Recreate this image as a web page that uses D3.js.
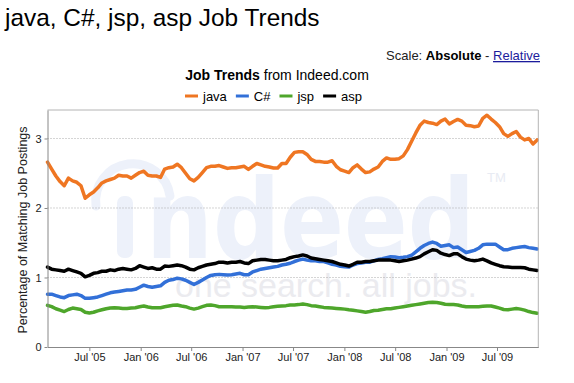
<!DOCTYPE html>
<html><head><meta charset="utf-8">
<script src="https://cdn.jsdelivr.net/npm/d3@7"></script>
<style>
body{margin:0;background:#fff;}
svg{display:block;font-family:Arial,"Liberation Sans",sans-serif;}
</style>
</head><body>
<svg id="chart" width="574" height="383"></svg>
<script>
// ---------- data ----------
const seriesNames = ["java", "C#", "jsp", "asp"];
const startDate = new Date(2005, 1, 1);   // first observation, Feb 2005
const stepDays = 15;                      // observation spacing
const java = [
2.66,2.56,2.46,2.38,2.32,2.43,2.39,2.37,2.32,2.14,
2.19,2.23,2.29,2.36,2.39,2.41,2.43,2.47,2.46,2.46,
2.43,2.47,2.51,2.53,2.47,2.46,2.46,2.44,2.56,2.58,
2.59,2.63,2.58,2.50,2.42,2.39,2.44,2.51,2.58,2.60,
2.60,2.61,2.59,2.57,2.58,2.58,2.59,2.60,2.555,2.60,
2.64,2.62,2.60,2.59,2.575,2.575,2.64,2.64,2.73,2.80,
2.81,2.81,2.77,2.70,2.67,2.67,2.66,2.66,2.68,2.60,
2.55,2.53,2.51,2.58,2.62,2.56,2.51,2.52,2.56,2.59,
2.67,2.72,2.70,2.70,2.71,2.75,2.84,2.96,3.08,3.19,
3.25,3.23,3.22,3.20,3.25,3.28,3.21,3.245,3.275,3.25,
3.19,3.185,3.17,3.18,3.29,3.335,3.28,3.23,3.17,3.07,
3.03,3.07,3.10,3.02,2.98,3.00,2.92,2.98];
const csharp = [
0.76,0.76,0.74,0.72,0.71,0.74,0.75,0.76,0.74,0.70,
0.70,0.71,0.72,0.74,0.76,0.78,0.79,0.80,0.81,0.82,
0.82,0.83,0.86,0.89,0.87,0.86,0.87,0.88,0.93,0.96,
0.97,0.99,0.98,0.96,0.93,0.90,0.93,0.965,1.00,1.03,
1.04,1.045,1.04,1.035,1.04,1.05,1.06,1.04,1.04,1.08,
1.10,1.12,1.13,1.14,1.15,1.16,1.18,1.19,1.205,1.23,
1.25,1.265,1.25,1.24,1.24,1.23,1.23,1.21,1.19,1.18,
1.16,1.155,1.15,1.18,1.20,1.21,1.22,1.22,1.24,1.26,
1.27,1.285,1.30,1.295,1.285,1.29,1.30,1.32,1.37,1.42,
1.46,1.49,1.51,1.49,1.45,1.46,1.47,1.43,1.44,1.40,
1.36,1.375,1.39,1.42,1.47,1.48,1.48,1.48,1.44,1.40,
1.40,1.42,1.43,1.44,1.445,1.43,1.42,1.41];
const jsp = [
0.60,0.58,0.55,0.53,0.51,0.54,0.56,0.55,0.54,0.50,
0.49,0.50,0.52,0.535,0.55,0.56,0.565,0.56,0.555,0.555,
0.56,0.565,0.58,0.59,0.575,0.565,0.565,0.565,0.58,0.59,
0.60,0.605,0.59,0.58,0.56,0.545,0.56,0.58,0.60,0.605,
0.595,0.58,0.58,0.58,0.58,0.575,0.575,0.57,0.575,0.58,
0.575,0.57,0.565,0.57,0.58,0.585,0.59,0.595,0.605,0.605,
0.61,0.62,0.61,0.595,0.59,0.58,0.57,0.565,0.56,0.555,
0.55,0.545,0.535,0.53,0.52,0.51,0.50,0.51,0.525,0.53,
0.54,0.55,0.55,0.56,0.57,0.58,0.59,0.60,0.61,0.62,
0.63,0.64,0.645,0.64,0.63,0.615,0.61,0.61,0.605,0.59,
0.58,0.58,0.58,0.58,0.585,0.59,0.59,0.575,0.56,0.54,
0.535,0.545,0.555,0.545,0.53,0.51,0.495,0.485];
const asp = [
1.15,1.12,1.11,1.10,1.09,1.12,1.10,1.08,1.06,1.01,
1.03,1.06,1.07,1.09,1.09,1.11,1.10,1.12,1.13,1.12,
1.11,1.13,1.17,1.15,1.13,1.14,1.12,1.12,1.165,1.16,
1.17,1.18,1.17,1.15,1.12,1.11,1.14,1.16,1.18,1.19,
1.20,1.22,1.22,1.21,1.22,1.22,1.23,1.21,1.20,1.24,
1.25,1.26,1.26,1.25,1.24,1.24,1.25,1.26,1.285,1.30,
1.31,1.325,1.31,1.28,1.27,1.26,1.25,1.24,1.23,1.21,
1.19,1.18,1.165,1.19,1.22,1.22,1.23,1.23,1.24,1.25,
1.25,1.25,1.25,1.24,1.23,1.24,1.25,1.265,1.28,1.30,
1.34,1.37,1.40,1.39,1.35,1.33,1.315,1.34,1.34,1.30,
1.265,1.25,1.24,1.25,1.265,1.24,1.21,1.19,1.17,1.155,
1.15,1.145,1.145,1.145,1.14,1.12,1.11,1.10];
const xTickDates = [
  new Date(2005,6,1), new Date(2006,0,1), new Date(2006,6,1), new Date(2007,0,1),
  new Date(2007,6,1), new Date(2008,0,1), new Date(2008,6,1), new Date(2009,0,1),
  new Date(2009,6,1)];
const yTickValues = [0, 1, 2, 3];

// ---------- styles ----------
const colors = ["#ef7622", "#3270d8", "#4ea62b", "#000000"];
const seriesValues = [java, csharp, jsp, asp];
const dates = java.map((_, i) => d3.timeDay.offset(startDate, stepDays * i));

const svg = d3.select("#chart");
const L = 47.5, R = 538.3, T = 110, B = 347;

const x = d3.scaleTime()
  .domain([startDate, new Date(2009, 10, 26)])
  .range([L, R]);
const y = d3.scaleLinear().domain([0, 3.41]).range([B, T]);

// ---------- header texts ----------
svg.append("text").attr("x", 5).attr("y", 26)
  .attr("font-size", 24.4).attr("fill", "#000")
  .text("java, C#, jsp, asp Job Trends");

const scaleT = svg.append("text").attr("x", 540).attr("y", 60)
  .attr("text-anchor", "end").attr("font-size", 13).attr("fill", "#222");
scaleT.append("tspan").text("Scale: ");
scaleT.append("tspan").attr("font-weight", "bold").attr("fill", "#000").text("Absolute");
scaleT.append("tspan").text(" - ");
scaleT.append("tspan").attr("fill", "#1c1c9c").attr("text-decoration", "underline").text("Relative");

const sub = svg.append("text").attr("x", 277).attr("y", 80)
  .attr("text-anchor", "middle").attr("font-size", 14).attr("fill", "#000");
sub.append("tspan").attr("font-weight", "bold").text("Job Trends");
sub.append("tspan").text(" from Indeed.com");

// legend
let lx = 185;
seriesNames.forEach((name, i) => {
  svg.append("line").attr("x1", lx).attr("x2", lx + 13).attr("y1", 96).attr("y2", 96)
    .attr("stroke", colors[i]).attr("stroke-width", 3);
  const t = svg.append("text").attr("x", lx + 18).attr("y", 100.5)
    .attr("font-size", 13).attr("fill", "#000").text(name);
  lx += 18 + t.node().getComputedTextLength() + 9;
});

// ---------- watermark ----------
const wm = svg.append("g");
const wmBlue = "#edf1fa";
wm.append("path").attr("d", "M96,206 A37,37 0 0 1 170,196")
  .attr("fill", "none").attr("stroke", wmBlue).attr("stroke-width", 9).attr("stroke-linecap", "round");
wm.append("rect").attr("x", 117).attr("y", 196).attr("width", 16).attr("height", 62)
  .attr("rx", 7).attr("fill", wmBlue);
wm.append("text").attr("transform", "translate(146,258) scale(1,1.18)")
  .attr("font-family", "'DejaVu Sans', sans-serif").attr("font-weight", "bold")
  .attr("font-size", 94)
  .attr("fill", wmBlue).text("ndeed");
wm.append("text").attr("x", 487).attr("y", 182).attr("font-size", 13)
  .attr("fill", "#e8ebf3").text("TM");
wm.append("text").attr("x", 175).attr("y", 297).attr("font-size", 34)
  .attr("textLength", 302).attr("lengthAdjust", "spacingAndGlyphs")
  .attr("fill", "#ebebef").text("one search. all jobs.");

// ---------- grid ----------
svg.append("g").selectAll("line").data(yTickValues.filter(v => v > 0)).join("line")
  .attr("x1", L).attr("x2", R).attr("y1", d => y(d)).attr("y2", d => y(d))
  .attr("stroke", "#aaa").attr("stroke-width", 1).attr("stroke-dasharray", "1,2");

// ---------- lines ----------
const line = d3.line().x((d, i) => x(dates[i])).y(d => y(d)).curve(d3.curveLinear);
seriesValues.forEach((vals, i) => {
  svg.append("path").datum(vals).attr("d", line)
    .attr("fill", "none").attr("stroke", colors[i]).attr("stroke-width", 3.5)
    .attr("stroke-linejoin", "round").attr("stroke-linecap", "round");
});

// ---------- frame & axes ----------
svg.append("path").attr("d", `M${L},${T}H${R}V${B}`)
  .attr("fill", "none").attr("stroke", "#b4b4b4").attr("stroke-width", 1);

const xAxis = svg.append("g").attr("transform", `translate(0,${B})`)
  .call(d3.axisBottom(x).tickValues(xTickDates).tickFormat(d3.timeFormat("%b '%y"))
    .tickSize(4).tickPadding(2).tickSizeOuter(0));
xAxis.select(".domain").attr("stroke", "#888");
xAxis.selectAll(".tick line").attr("stroke", "#888");
xAxis.selectAll("text").attr("font-size", 11).attr("fill", "#222")
  .attr("font-family", "Arial, 'Liberation Sans', sans-serif");

const yAxis = svg.append("g").attr("transform", `translate(${L},0)`)
  .call(d3.axisLeft(y).tickValues(yTickValues).tickFormat(d3.format("d"))
    .tickSize(3).tickPadding(3).tickSizeOuter(0));
yAxis.select(".domain").attr("stroke", "#888");
yAxis.selectAll(".tick line").attr("stroke", "#888");
yAxis.selectAll("text").attr("font-size", 11).attr("fill", "#222")
  .attr("font-family", "Arial, 'Liberation Sans', sans-serif");

svg.append("text").attr("transform", "translate(27,230) rotate(-90)")
  .attr("text-anchor", "middle").attr("font-size", 12.5).attr("fill", "#222")
  .text("Percentage of Matching Job Postings");
</script>
</body></html>
